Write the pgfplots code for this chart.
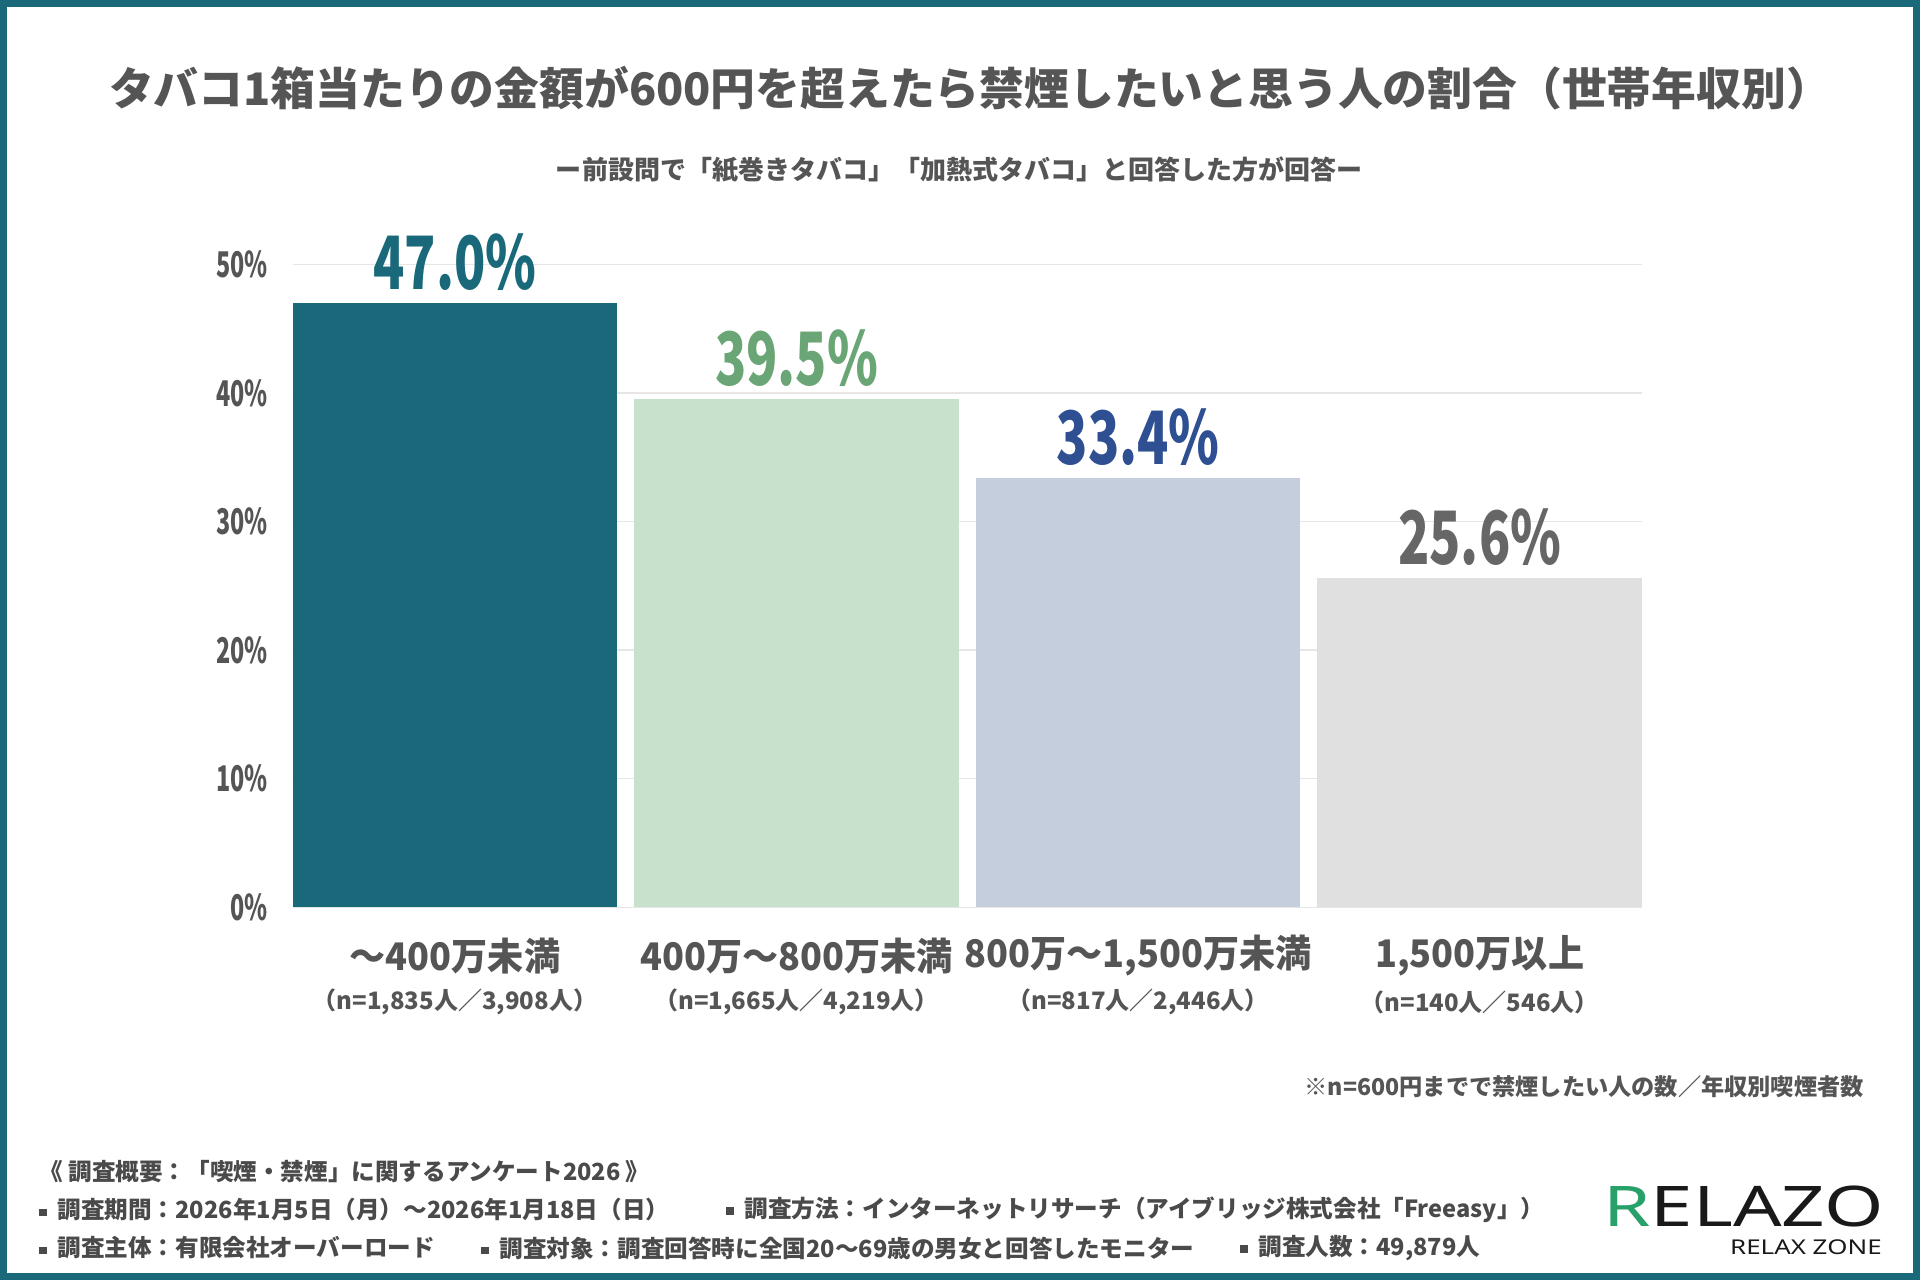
\documentclass[border=0pt]{standalone}
\usepackage{pgfplots}
\pgfplotsset{compat=1.18}
\usepackage{fontspec}
\setmainfont{Noto Sans CJK JP}
\newfontfamily\logofont{Noto Sans}
\definecolor{tealA}{HTML}{19697A}
\definecolor{greenbar}{HTML}{C8E1CC}
\definecolor{greenlab}{HTML}{6AA575}
\definecolor{bluebar}{HTML}{C5CEDD}
\definecolor{bluelab}{HTML}{2E4F92}
\definecolor{graybar}{HTML}{E0E0E0}
\definecolor{graylab}{HTML}{666666}
\definecolor{titlegray}{HTML}{555555}
\definecolor{tickgray}{HTML}{555555}
\definecolor{gridgray}{HTML}{E6E6E6}
\definecolor{footgray}{HTML}{4A4A4A}
\definecolor{logogreen}{HTML}{27A06A}
\newcommand\bul{\rule[0.12em]{0.32em}{0.32em}\hspace{0.45em}}
\newcommand\xl[1]{\scalebox{0.95}[1]{#1}}
\begin{document}
\begin{tikzpicture}
\begin{scope}[x=0.5bp,y=0.5bp]
\fill[white] (0,0) rectangle (1920,1280);
\draw[tealA, line width=3.5bp] (3.5,3.5) rectangle (1916.5,1276.5);
\node[font=\bfseries\fontsize{22.4bp}{26bp}\selectfont, text=titlegray] at (970,1192) {タバコ1箱当たりの金額が600円を超えたら禁煙したいと思う人の割合（世帯年収別）};
\node[font=\bfseries\fontsize{13bp}{16bp}\selectfont, text=titlegray] at (959,1110) {ー前設問で「紙巻きタバコ」「加熱式タバコ」と回答した方が回答ー};
\end{scope}
\begin{axis}[
  at={(146.35bp,186.3bp)}, anchor=south west,
  scale only axis, width=674.6bp, height=321.5bp,
  xmin=-0.475, xmax=3.475, ymin=0, ymax=50,
  clip=false,
  axis line style={draw=none},
  major tick length=0pt,
  ymajorgrids, grid style={color=gridgray, line width=0.7bp},
  ytick={0,10,20,30,40,50},
  /pgf/number format/assume math mode=true,
  yticklabel={\scalebox{0.66}[1]{\pgfmathprintnumber{\tick}\%}},
  yticklabel style={font=\bfseries\fontsize{17.7bp}{20bp}\selectfont, text=tickgray, anchor=east, inner sep=0pt, xshift=-12.3bp},
  xtick={0,1,2,3},
  xticklabels={\xl{〜400万未満},\xl{400万〜800万未満},{\xl{800万〜1,500万未満}},{\xl{1,500万以上}}},
  xticklabel style={font=\bfseries\fontsize{19bp}{22bp}\selectfont, text=tickgray, anchor=center, inner sep=0pt, yshift=-24.3bp},
  extra x ticks={0,1,2,3},
  extra x tick labels={{（n=1,835人／3,908人）},{（n=1,665人／4,219人）},{（n=817人／2,446人）},{（n=140人／546人）}},
  extra x tick style={grid=none, xticklabel style={font=\bfseries\fontsize{12bp}{14bp}\selectfont, yshift=-23bp}},
  ybar, bar width=0.95,
  nodes near coords={\scalebox{0.70}[1]{\pgfmathprintnumber[fixed,fixed zerofill,precision=1]{\pgfplotspointmeta}\%}},
  every node near coord/.append style={font=\bfseries\fontsize{36.8bp}{40bp}\selectfont, anchor=south, inner sep=0pt, yshift=6bp},
]
\addplot[fill=tealA, draw=none, bar shift=0pt, every node near coord/.append style={text=tealA}] coordinates {(0,47.0)};
\addplot[fill=greenbar, draw=none, bar shift=0pt, every node near coord/.append style={text=greenlab}] coordinates {(1,39.5)};
\addplot[fill=bluebar, draw=none, bar shift=0pt, every node near coord/.append style={text=bluelab}] coordinates {(2,33.4)};
\addplot[fill=graybar, draw=none, bar shift=0pt, every node near coord/.append style={text=graylab}] coordinates {(3,25.6)};
\end{axis}
\begin{scope}[x=0.5bp,y=0.5bp]
\node[anchor=east, inner sep=0pt, font=\bfseries\fontsize{11.6bp}{14bp}\selectfont, text=tickgray] at (1864,193) {※n=600円までで禁煙したい人の数／年収別喫煙者数};
\begin{scope}[every node/.style={anchor=west, inner sep=0pt, font=\bfseries\fontsize{11.8bp}{14bp}\selectfont, text=footgray}]
\node at (39,108) {《 調査概要：「喫煙・禁煙」に関するアンケート2026 》};
\node at (39,70) {\bul 調査期間：2026年1月5日（月）〜2026年1月18日（日）};
\node at (726,70) {\bul 調査方法：インターネットリサーチ（アイブリッジ株式会社「Freeasy」）};
\node at (39,32) {\bul 調査主体：有限会社オーバーロード};
\node at (481,32) {\bul 調査対象：調査回答時に全国20〜69歳の男女と回答したモニター};
\node at (1240,32) {\bul 調査人数：49,879人};
\end{scope}
\node[anchor=base west, inner sep=0pt, font=\logofont\bfseries\fontsize{28bp}{30bp}\selectfont, text=black!90] at (1603,53) {\scalebox{1.36}[1]{\textcolor{logogreen}{R}ELAZO}};
\node[anchor=base east, inner sep=0pt, font=\logofont\bfseries\fontsize{10.2bp}{12bp}\selectfont, text=black!90] at (1882,25) {\scalebox{1.27}[1]{RELAX ZONE}};
\end{scope}
\end{tikzpicture}
\end{document}
